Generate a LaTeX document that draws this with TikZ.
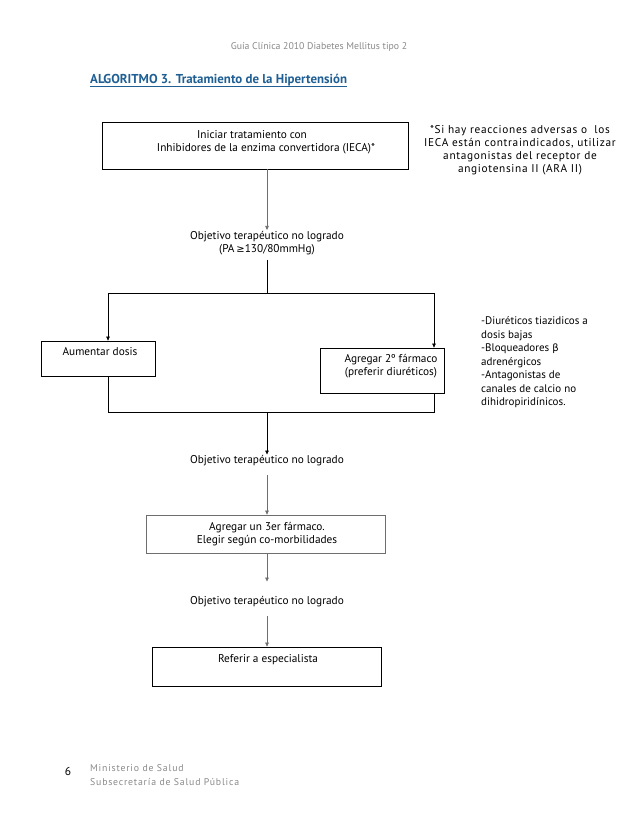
\documentclass[tikz,border=0pt]{standalone}
\usepackage{fontspec}
\setmainfont{PT Sans}
\newfontfamily\djv{DejaVu Sans}
\newfontfamily\spaced[LetterSpace=6]{PT Sans}
\newfontfamily\spacedwide[LetterSpace=8]{PT Sans}
\usetikzlibrary{arrows.meta,calc}
\definecolor{titleblue}{HTML}{1F5F94}
\definecolor{hdrgray}{HTML}{8A8A8A}
\definecolor{lngray}{HTML}{6E6E6E}
\begin{document}
\begin{tikzpicture}[x=1pt,y=-1pt,
  font=\fontsize{11.3}{13}\selectfont,
  box/.style={draw, line width=0.7pt, inner sep=0pt},
  txt/.style={align=center, inner sep=1pt},
  arr/.style={-{Triangle[length=4pt,width=3.5pt]}, line width=0.6pt},
  ln/.style={line width=0.6pt},
  gr/.style={draw=lngray}]
\useasboundingbox (0,0) rectangle (638,826);
\fill[white] (0,0) rectangle (638,826);

% header
\node[font=\fontsize{9.8}{11}\selectfont, text=hdrgray] (hdr) at (319,47) {Guía Clínica 2010 Diabetes Mellitus tipo 2};
\node[anchor=base west, inner sep=0pt, font=\fontsize{12.9}{14}\selectfont\bfseries, text=titleblue] (title) at (90,84) {ALGORITMO 3. Tratamiento de la Hipertensión};
\draw[titleblue, line width=0.6pt] ($(title.base west)+(0,2)$) -- ($(title.base east)+(0,2)$);

% box 1
\node[box, minimum width=306pt, minimum height=47pt] (b1) at (255,145.5) {};
\node[txt] (t1) at (266,142.5) {Iniciar tratamiento con\hspace*{28pt}\\Inhibidores de la enzima convertidora (IECA)*};
\node[txt, font=\spaced\fontsize{11.3}{13}\selectfont] (n1) at (520,150.5) {*Si hay reacciones adversas o\ \ los\\IECA están contraindicados, utilizar\\antagonistas del receptor de\\angiotensina II (ARA II)};

% objective 1
\node[txt] (o1) at (267,243) {Objetivo terapéutico no logrado\\(PA\,{\djv\fontsize{10}{13}\selectfont ≥}130/80mmHg)};

\coordinate (j1) at (267,293);
\coordinate (jl) at (108,293);
\coordinate (jr) at (434,293);

% left and right boxes
\node[box, minimum width=114pt, minimum height=35pt] (bl) at (98,358.5) {};
\node[txt] (tl) at (100,352) {Aumentar dosis};
\node[box, minimum width=124pt, minimum height=45pt] (br) at (382,370.5) {};
\node[txt] (tr) at (391,366.5) {Agregar 2º fármaco\\(preferir diuréticos)};
\node[align=left, anchor=west, inner sep=0pt, font=\fontsize{11}{13.5}\selectfont] (n2) at (481,362.5) {-Diuréticos tiazidicos a\\dosis bajas\\-Bloqueadores {\djv\fontsize{10}{13}\selectfont β}\\adrenérgicos\\-Antagonistas de\\canales de calcio no\\dihidropiridínicos.};

\coordinate (kl) at (108,412);
\coordinate (kr) at (434,412);
\coordinate (k1) at (267,412);

% objective 2
\node[txt] (o2) at (267,461) {Objetivo terapéutico no logrado};

% box 3
\node[box, gr, minimum width=239pt, minimum height=38pt] (b3) at (265.5,534) {};
\node[txt] (t3) at (267,534) {Agregar un 3er fármaco.\\Elegir según co-morbilidades};

% objective 3
\node[txt] (o3) at (267,602) {Objetivo terapéutico no logrado};

% box 4
\node[box, minimum width=229pt, minimum height=39pt] (b4) at (266.5,666.5) {};
\node[txt] (t4) at (268,660) {Referir a especialista};

% footer
\node[anchor=base, inner sep=0pt, font=\fontsize{11.5}{12}\selectfont] (pg) at (68,775) {6};
\node[anchor=west, align=left, inner sep=0pt, text=hdrgray, font=\spacedwide\fontsize{9.8}{14}\selectfont] (ft) at (90,775) {Ministerio de Salud\\Subsecretaría de Salud Pública};

% connectors
\draw[arr, gr] (b1.south -| o1) -- (o1.north);
\draw[ln, shorten <=4pt] (o1.south) -- (j1);
\draw[ln] (jl) -- (jr);
\draw[arr] (jl) -- (jl |- bl.north);
\draw[arr] (jr) -- (jr |- br.north);
\draw[ln] (kl |- bl.south) -- (kl) -- (kr) -- (kr |- br.south);
\draw[arr] (k1) -- (o2.north);
\draw[arr, gr, shorten <=8pt] (o2.south) -- (b3.north -| o2);
\draw[arr, gr, shorten >=14pt] (b3.south -| o3) -- (o3.north);
\draw[arr, gr, shorten <=8pt] (o3.south) -- (b4.north -| o3);
\end{tikzpicture}
\end{document}
